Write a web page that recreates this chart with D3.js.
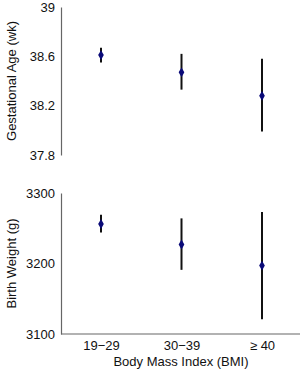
<!DOCTYPE html>
<html>
<head>
<meta charset="utf-8">
<script src="https://cdn.jsdelivr.net/npm/d3@7"></script>
<style>
  body { margin: 0; background: #fff; }
  text { font-family: "Liberation Sans", Arial, sans-serif; fill: #111; }
</style>
</head>
<body>
<div id="chart"></div>
<script>
let categories = ['19\u221229', '30\u221239', '\u2265 40']

let gaMean = [38.61, 38.47, 38.28]
let gaLow = [38.55, 38.33, 37.99]
let gaHigh = [38.67, 38.62, 38.58]
let gaTicks = [37.8, 38.2, 38.6, 39]

let bwMean = [3256, 3227, 3197]
let bwLow = [3244, 3191, 3121]
let bwHigh = [3269, 3264, 3273]
let bwTicks = [3100, 3200, 3300]

let width = 300
let height = 370
let left = 61

let svg = d3.select('#chart')
  .append('svg')
  .attr('width', width)
  .attr('height', height)

let x = d3.scalePoint()
  .domain(categories)
  .range([101, 262])

function panel(mean, low, high, ticks, domain, top, bottom, label, fmt, showX) {
  let y = d3.scaleLinear().domain(domain).range([bottom, top])

  let yAxis = svg.append('g')
    .attr('transform', `translate(${left},0)`)
    .call(d3.axisLeft(y).tickValues(ticks).tickSize(0).tickPadding(6).tickFormat(fmt))
  yAxis.select('.domain').attr('stroke', '#666').attr('stroke-width', 1.2)
  yAxis.selectAll('text')
    .style('font-size', '13px')
    .style('font-family', '"Liberation Sans", Arial, sans-serif')
    .attr('fill', '#111')

  svg.append('text')
    .attr('transform', `translate(16,${(top + bottom) / 2}) rotate(-90)`)
    .attr('text-anchor', 'middle')
    .style('font-size', '13px')
    .text(label)

  if (showX) {
    let xAxis = svg.append('g')
      .attr('transform', `translate(0,${bottom})`)
      .call(d3.axisBottom(x).tickSize(0).tickPadding(7))
    xAxis.select('.domain')
      .attr('d', `M${left},0H${width}`)
      .attr('stroke', '#666').attr('stroke-width', 1.2)
    xAxis.selectAll('text')
      .style('font-size', '13px')
      .style('font-family', '"Liberation Sans", Arial, sans-serif')
      .attr('fill', '#111')
  }

  svg.append('g').selectAll('line')
    .data(categories)
    .enter()
    .append('line')
    .attr('x1', d => x(d))
    .attr('x2', d => x(d))
    .attr('y1', (d, i) => y(low[i]))
    .attr('y2', (d, i) => y(high[i]))
    .attr('stroke', '#111')
    .attr('stroke-width', 2)

  svg.append('g').selectAll('path')
    .data(categories)
    .enter()
    .append('path')
    .attr('d', d3.symbol(d3.symbolDiamond, 28))
    .attr('transform', (d, i) => `translate(${x(d)},${y(mean[i])})`)
    .attr('fill', '#0a0a78')
}

panel(gaMean, gaLow, gaHigh, gaTicks, [37.8, 39], 7, 155, 'Gestational Age (wk)', d => d === 39 ? '39' : d3.format('.1f')(d), false)
panel(bwMean, bwLow, bwHigh, bwTicks, [3100, 3300], 193, 334, 'Birth Weight (g)', d3.format('d'), true)

svg.append('text')
  .attr('x', 181)
  .attr('y', 366)
  .attr('text-anchor', 'middle')
  .style('font-size', '13px')
  .text('Body Mass Index (BMI)')
</script>
</body>
</html>
